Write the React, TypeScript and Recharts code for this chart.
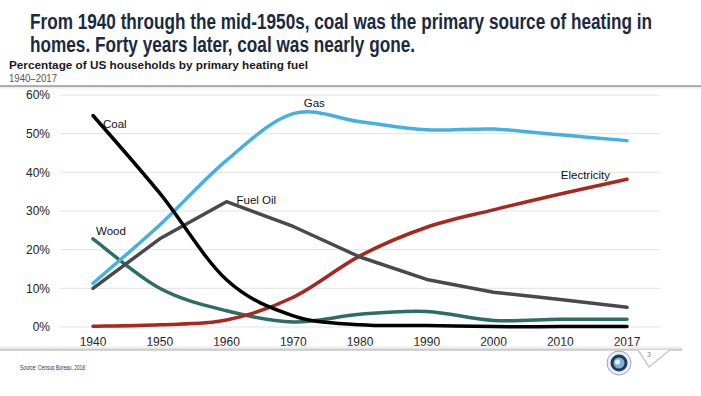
import React from 'react';
import { LineChart, Line, XAxis, YAxis, CartesianGrid } from 'recharts';

const years = ['1940', '1950', '1960', '1970', '1980', '1990', '2000', '2010', '2017'];
const gas = [11.3, 26.4, 43.1, 55.2, 53.1, 51.0, 51.2, 49.7, 48.2];
const coal = [54.7, 34.6, 12.2, 2.9, 0.6, 0.4, 0.1, 0.1, 0.1];
const fuelOil = [10.0, 22.8, 32.4, 26.0, 18.1, 12.3, 9.0, 7.1, 5.1];
const electricity = [0.2, 0.6, 1.8, 7.7, 18.4, 25.8, 30.3, 34.4, 38.2];
const wood = [22.8, 10.0, 4.2, 1.3, 3.3, 4.0, 1.7, 2.0, 2.0];
const yTicks = [0, 10, 20, 30, 40, 50, 60];

const data = years.map((year, i) => ({
  year,
  gas: gas[i],
  coal: coal[i],
  fuelOil: fuelOil[i],
  electricity: electricity[i],
  wood: wood[i],
}));

// Catmull-Rom style smoothing (like Excel's smoothed line)
const smoothCurve: any = (context: any) => {
  let pts: number[][] = [];
  return {
    areaStart() {},
    areaEnd() {},
    lineStart() {
      pts = [];
    },
    point(x: number, y: number) {
      pts.push([+x, +y]);
    },
    lineEnd() {
      if (!pts.length) return;
      context.moveTo(pts[0][0], pts[0][1]);
      const t = 1 / 6;
      for (let i = 0; i < pts.length - 1; i++) {
        const p0 = pts[i - 1] || pts[i];
        const p1 = pts[i];
        const p2 = pts[i + 1];
        const p3 = pts[i + 2] || pts[i + 1];
        context.bezierCurveTo(
          p1[0] + (p2[0] - p0[0]) * t,
          p1[1] + (p2[1] - p0[1]) * t,
          p2[0] - (p3[0] - p1[0]) * t,
          p2[1] - (p3[1] - p1[1]) * t,
          p2[0],
          p2[1]
        );
      }
    },
  };
};

const FONT = '"Liberation Sans", Arial, sans-serif';

const makeLabel = (text: string, idx: number, dx: number, dy: number, anchor: string) => (props: any) => {
  const { x, y, index } = props;
  if (index !== idx) return null;
  return (
    <text
      x={x + dx}
      y={y + dy}
      textAnchor={anchor as any}
      dominantBaseline="central"
      fontSize={11.5}
      fontFamily={FONT}
      fill="#111"
    >
      {text}
    </text>
  );
};

const series = [
  { key: 'wood', name: 'Wood', color: '#2d6e64', type: smoothCurve, label: makeLabel('Wood', 0, 3, -8, 'start') },
  { key: 'electricity', name: 'Electricity', color: '#a8271f', type: smoothCurve, label: makeLabel('Electricity', 8, -17, -4, 'end') },
  { key: 'fuelOil', name: 'Fuel Oil', color: '#4a4848', type: 'linear', label: makeLabel('Fuel Oil', 2, 10, -2, 'start') },
  { key: 'gas', name: 'Gas', color: '#45b1e1', type: smoothCurve, label: makeLabel('Gas', 3, 21, -11, 'middle') },
  { key: 'coal', name: 'Coal', color: '#000000', type: smoothCurve, label: makeLabel('Coal', 0, 10, 9, 'start') },
];

export default function App() {
  return (
    <div style={{ position: 'absolute', left: 0, top: 0, width: 701, height: 396, background: '#fff', overflow: 'hidden' }}>
      <div style={{ position: 'absolute', left: 0, top: 0 }}>
        <LineChart width={701} height={396} data={data} margin={{ top: 95, right: 41, bottom: 39, left: 0 }}>
          <CartesianGrid vertical={false} stroke="#e3e3e3" strokeWidth={1} />
          <XAxis
            dataKey="year"
            axisLine={false}
            tickLine={false}
            height={30}
            padding={{ left: 33, right: 33 }}
            interval={0}
            tick={{ fontSize: 12, fill: '#222', fontFamily: FONT }}
            tickMargin={4}
          />
          <YAxis
            width={60}
            domain={[0, 60]}
            ticks={yTicks}
            axisLine={false}
            tickLine={false}
            tickMargin={4}
            tickFormatter={(v: number) => `${v}%`}
            tick={{ fontSize: 12, fill: '#222', fontFamily: FONT }}
          />
          {series.map((s) => (
            <Line
              key={s.key}
              dataKey={s.key}
              name={s.name}
              type={s.type as any}
              stroke={s.color}
              strokeWidth={3.5}
              dot={false}
              activeDot={false}
              isAnimationActive={false}
              label={s.label}
              strokeLinecap="round"
              strokeLinejoin="round"
            />
          ))}
        </LineChart>
      </div>
      <svg width={701} height={396} style={{ position: 'absolute', left: 0, top: 0, pointerEvents: 'none' }}>
        <defs>
          <linearGradient id="shadowTop" x1="0" y1="0" x2="0" y2="1">
            <stop offset="0" stopColor="#d8d8d8" />
            <stop offset="1" stopColor="#ffffff" stopOpacity="0" />
          </linearGradient>
          <linearGradient id="shadowBottom" x1="0" y1="0" x2="0" y2="1">
            <stop offset="0" stopColor="#ffffff" stopOpacity="0" />
            <stop offset="1" stopColor="#d0d0d0" />
          </linearGradient>
        </defs>
        <text x={30} y={29} fontFamily='"Liberation Sans Narrow", "Liberation Sans", Arial, sans-serif' fontWeight="bold" fontSize={22} fill="#1b2a3f" textLength={622} lengthAdjust="spacingAndGlyphs">
          From 1940 through the mid-1950s, coal was the primary source of heating in
        </text>
        <text x={30} y={52} fontFamily='"Liberation Sans Narrow", "Liberation Sans", Arial, sans-serif' fontWeight="bold" fontSize={22} fill="#1b2a3f" textLength={385} lengthAdjust="spacingAndGlyphs">
          homes. Forty years later, coal was nearly gone.
        </text>
        <text x={9} y={69} fontFamily={FONT} fontWeight="bold" fontSize={11} fill="#1a1a1a" textLength={299} lengthAdjust="spacingAndGlyphs">
          Percentage of US households by primary heating fuel
        </text>
        <text x={9} y={82} fontFamily={FONT} fontSize={11} fill="#555" textLength={48} lengthAdjust="spacingAndGlyphs">
          1940–2017
        </text>
        <rect x={0} y={86} width={701} height={5} fill="url(#shadowTop)" />
        <line x1={0} y1={86} x2={701} y2={86} stroke="#9a9a9a" strokeWidth={1.5} />
        <rect x={0} y={344} width={682} height={6} fill="url(#shadowBottom)" />
        <polyline points="0,350 638,350 649,367 670,350 682,350" fill="none" stroke="#c8c8c8" strokeWidth={1.5} />
        <text x={649} y={357} fontFamily={FONT} fontSize={7} fill="#888" textAnchor="middle">3</text>
        <text x={20} y={370} fontFamily={FONT} fontSize={7.5} fill="#333" textLength={65} lengthAdjust="spacingAndGlyphs">
          Source: Census Bureau, 2018
        </text>
        <circle cx={619} cy={363} r={12} fill="#e9eef3" stroke="#9aa8b8" strokeWidth={1} />
        <circle cx={619} cy={363} r={8.5} fill="#1f3a5c" />
        <circle cx={619} cy={363} r={5.5} fill="#7fb0d8" />
        <circle cx={617.5} cy={362} r={2.5} fill="#e8f0f6" />
      </svg>
    </div>
  );
}
